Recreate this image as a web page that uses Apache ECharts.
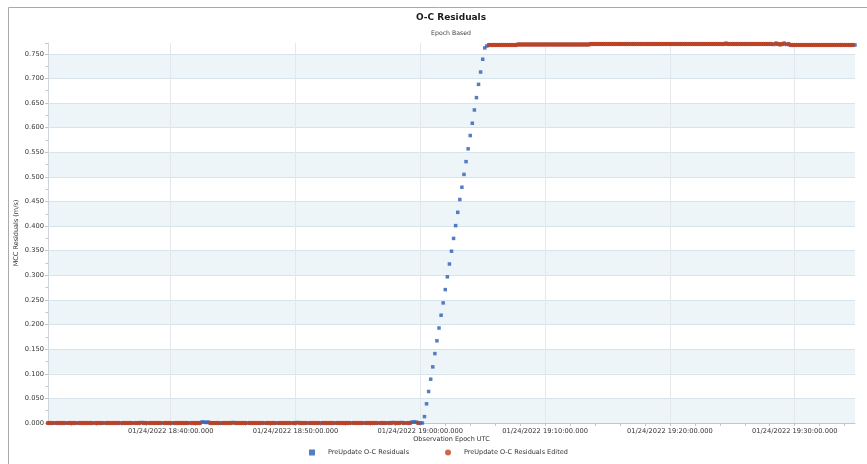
<!DOCTYPE html>
<html>
<head>
<meta charset="utf-8">
<title>O-C Residuals</title>
<script src="https://cdn.jsdelivr.net/npm/echarts@6/dist/echarts.min.js"></script>
<style>
  html, body { margin: 0; padding: 0; background: #ffffff; }
  #chart { width: 867px; height: 464px; }
</style>
</head>
<body>
<div id="chart"></div>
<script>
// Observation epochs: one residual every 10 s starting at this UTC time
const firstEpochUtc = '2022-01-24T18:30:10Z';
const epochStepSec = 10;

// MCC residuals (m/s), epochs 18:30:10 .. 19:00:10
const residualsFlat = [
  0, 0, 0, 0, 0, 0, 0, 0, 0, 0,
  0, 0, 0, 0, 0, 0, 0, 0, 0, 0,
  0, 0, 0, 0, 0, 0, 0, 0, 0, 0,
  0, 0, 0, 0, 0, 0, 0, 0, 0, 0,
  0, 0, 0, 0, 0, 0.001, 0, 0, 0, 0,
  0, 0, 0, 0, 0, 0, 0, 0, 0, 0,
  0, 0, 0, 0, 0, 0, 0, 0, 0, 0,
  0, 0, 0, 0, 0.002, 0.002, 0.001, 0.002, 0, 0,
  0, 0, 0, 0, 0, 0, 0, 0, 0, 0.001,
  0, 0, 0, 0, 0, 0, 0, 0, 0, 0,
  0, 0, 0, 0, 0, 0, 0, 0, 0, 0,
  0, 0, 0, 0, 0, 0, 0, 0, 0, 0,
  0.001, 0, 0, 0, 0, 0, 0, 0, 0, 0,
  0, 0, 0, 0, 0, 0, 0, 0, 0, 0,
  0, 0, 0, 0, 0, 0, 0, 0, 0, 0,
  0, 0, 0, 0, 0, 0, 0, 0, 0, 0,
  0, 0, 0, 0, 0, 0, 0.001, 0, 0, 0,
  0.001, 0, 0, 0, 0, 0.002, 0.002, 0.002, 0, 0,
  0
];

// Residual growth, epochs 19:00:20 .. 19:05:10
const residualsRamp = [
  0.013, 0.039, 0.064, 0.089, 0.114, 0.141, 0.167, 0.193, 0.219, 0.244,
  0.271, 0.297, 0.323, 0.349, 0.375, 0.401, 0.428, 0.454, 0.479, 0.505,
  0.531, 0.557, 0.584, 0.609, 0.636, 0.661, 0.688, 0.713, 0.739, 0.762
];

// Settled residuals, epochs 19:05:20 .. 19:34:50
const residualsTop = [
  0.766, 0.768, 0.768, 0.768, 0.768, 0.768, 0.768, 0.768, 0.768, 0.768,
  0.768, 0.768, 0.768, 0.768, 0.768, 0.769, 0.769, 0.769, 0.769, 0.769,
  0.769, 0.769, 0.769, 0.769, 0.769, 0.769, 0.769, 0.769, 0.769, 0.769,
  0.769, 0.769, 0.769, 0.769, 0.769, 0.769, 0.769, 0.769, 0.769, 0.769,
  0.769, 0.769, 0.769, 0.769, 0.769, 0.769, 0.769, 0.769, 0.769, 0.769,
  0.770, 0.770, 0.770, 0.770, 0.770, 0.770, 0.770, 0.770, 0.770, 0.770,
  0.770, 0.770, 0.770, 0.770, 0.770, 0.770, 0.770, 0.770, 0.770, 0.770,
  0.770, 0.770, 0.770, 0.770, 0.770, 0.770, 0.770, 0.770, 0.770, 0.770,
  0.770, 0.770, 0.770, 0.770, 0.770, 0.770, 0.770, 0.770, 0.770, 0.770,
  0.770, 0.770, 0.770, 0.770, 0.770, 0.770, 0.770, 0.770, 0.770, 0.770,
  0.770, 0.770, 0.770, 0.770, 0.770, 0.770, 0.770, 0.770, 0.770, 0.770,
  0.770, 0.770, 0.770, 0.770, 0.770, 0.771, 0.770, 0.770, 0.770, 0.770,
  0.770, 0.770, 0.770, 0.770, 0.770, 0.770, 0.770, 0.770, 0.770, 0.770,
  0.770, 0.770, 0.770, 0.770, 0.770, 0.770, 0.770, 0.770, 0.769, 0.771,
  0.770, 0.769, 0.770, 0.771, 0.769, 0.770, 0.768, 0.768, 0.768, 0.768,
  0.768, 0.768, 0.768, 0.768, 0.768, 0.768, 0.768, 0.768, 0.768, 0.768,
  0.768, 0.768, 0.768, 0.768, 0.768, 0.768, 0.768, 0.768, 0.768, 0.768,
  0.768, 0.768, 0.768, 0.768, 0.768, 0.768, 0.768, 0.768
];

// Epoch index ranges kept after editing, and epochs removed inside them
const editedSpans = [[0, 178], [212, 387]];
const editedGaps = [3, 9, 14, 22, 27, 35, 41, 45, 48, 55, 60, 68, 74, 75, 76, 77,
  83, 89, 96, 104, 110, 117, 120, 125, 131, 138, 146, 152, 159, 163, 166, 170,
  172, 175, 176, 177, 349, 355];

// Time axis marks (UTC, 24 Jan 2022)
const labelTimes = ['18:40', '18:50', '19:00', '19:10', '19:20', '19:30'];
const tickTimes = ['18:32', '18:34', '18:36', '18:38', '18:40', '18:42', '18:44', '18:46',
  '18:48', '18:50', '18:52', '18:54', '18:56', '18:58', '19:00', '19:02', '19:04', '19:06',
  '19:08', '19:10', '19:12', '19:14', '19:16', '19:18', '19:20', '19:22', '19:24', '19:26',
  '19:28', '19:30', '19:32', '19:34'];

const residualMax = 0.772;
const residualStep = 0.05;

const SERIES_PRE = 'PreUpdate O-C Residuals';
const SERIES_EDITED = 'PreUpdate O-C Residuals Edited';

function utcMs(hhmm) {
  const [h, m] = hhmm.split(':').map(Number);
  return Date.UTC(2022, 0, 24, h, m, 0);
}
function pad(n, w) { return String(n).padStart(w || 2, '0'); }
function formatEpoch(ms) {
  const d = new Date(ms);
  return pad(d.getUTCMonth() + 1) + '/' + pad(d.getUTCDate()) + '/' + d.getUTCFullYear() + ' ' +
    pad(d.getUTCHours()) + ':' + pad(d.getUTCMinutes()) + ':' + pad(d.getUTCSeconds()) + '.' +
    pad(d.getUTCMilliseconds(), 3);
}

const t0 = Date.parse(firstEpochUtc);
const residuals = residualsFlat.concat(residualsRamp, residualsTop);
const epochs = residuals.map((_, i) => t0 + i * epochStepSec * 1000);

const preData = residuals.map((v, i) => [epochs[i], v]);
const gapSet = new Set(editedGaps);
const editedData = [];
editedSpans.forEach(([a, b]) => {
  for (let i = a; i <= b; i++) {
    if (!gapSet.has(i)) editedData.push([epochs[i], residuals[i]]);
  }
});

const xMin = epochs[0];
const xMax = epochs[epochs.length - 1];
const labelValues = labelTimes.map(utcMs);
const tickValues = tickTimes.map(utcMs);

const FONT = 'DejaVu Sans';
const BLUE = '#2c5cb4';
const RED = '#c4401b';

const chart = echarts.init(document.getElementById('chart'), null, { renderer: 'canvas' });
chart.setOption({
  animation: false,
  backgroundColor: '#ffffff',
  textStyle: { fontFamily: FONT },
  graphic: [{
    type: 'rect',
    silent: true,
    shape: { x: 8.5, y: 7.5, width: 900, height: 500 },
    style: { fill: 'none', stroke: '#a7abb0', lineWidth: 1 }
  }],
  title: [{
    text: 'O-C Residuals',
    left: 451, top: 13, padding: 0, textAlign: 'center',
    textStyle: { fontFamily: FONT, fontSize: 9, fontWeight: 'bold', color: '#1a1a1a' }
  }, {
    text: 'Epoch Based',
    left: 451, top: 30, padding: 0, textAlign: 'center',
    textStyle: { fontFamily: FONT, fontSize: 6.2, fontWeight: 'normal', color: '#444444' }
  }],
  legend: {
    left: 309, top: 449, padding: 0,
    itemWidth: 6, itemHeight: 6, itemGap: 36,
    textStyle: { fontFamily: FONT, fontSize: 6.5, color: '#333333', padding: [0, 0, 0, 8] },
    data: [{ name: SERIES_PRE, icon: 'rect' }, { name: SERIES_EDITED, icon: 'circle' }]
  },
  grid: {
    left: 48, right: 12, top: 43, bottom: 41,
    containLabel: false, outerBoundsMode: 'none'
  },
  xAxis: [{
    type: 'value',
    min: xMin, max: xMax,
    name: 'Observation Epoch UTC',
    nameLocation: 'middle', nameGap: 13, nameMoveOverlap: false,
    nameTextStyle: { fontFamily: FONT, fontSize: 6.5, color: '#333333' },
    axisLine: { show: true, lineStyle: { color: '#c3c6c9', width: 1 } },
    axisTick: { show: true, length: 3, customValues: tickValues, lineStyle: { color: '#c3c6c9' } },
    axisLabel: {
      customValues: labelValues, margin: 4.5,
      fontFamily: FONT, fontSize: 6.7, color: '#333333',
      formatter: v => formatEpoch(v)
    },
    splitLine: { show: false }
  }, {
    type: 'value',
    min: xMin, max: xMax,
    position: 'bottom',
    axisLine: { show: false },
    axisTick: { show: false, customValues: labelValues },
    axisLabel: { show: false },
    splitLine: { show: true, lineStyle: { color: '#e4e8eb', width: 1 } }
  }],
  yAxis: {
    type: 'value',
    min: 0, max: residualMax, interval: residualStep,
    name: 'MCC Residuals (m/s)',
    nameLocation: 'middle', nameGap: 28, nameMoveOverlap: false,
    nameTextStyle: { fontFamily: FONT, fontSize: 6.5, color: '#333333' },
    axisLine: { show: true, lineStyle: { color: '#cdd5db', width: 1 } },
    axisTick: { show: true, length: 3, lineStyle: { color: '#c3c6c9' } },
    minorTick: { show: true, splitNumber: 2, length: 2.5, lineStyle: { color: '#c3c6c9' } },
    axisLabel: {
      margin: 4, showMaxLabel: false,
      fontFamily: FONT, fontSize: 6.7, color: '#333333',
      formatter: v => v.toFixed(3)
    },
    splitLine: { show: true, showMaxLine: false, lineStyle: { color: '#d8e4ec', width: 1 } },
    splitArea: { show: true, areaStyle: { color: ['#eef5f9', '#ffffff'] } }
  },
  series: [{
    name: SERIES_PRE,
    type: 'scatter',
    xAxisIndex: 0,
    symbol: 'rect',
    symbolSize: 3.5,
    clip: false,
    itemStyle: { color: BLUE },
    data: preData
  }, {
    name: SERIES_EDITED,
    type: 'scatter',
    xAxisIndex: 0,
    symbol: 'circle',
    symbolSize: 4.5,
    clip: false,
    itemStyle: { color: RED },
    data: editedData
  }]
});
</script>
</body>
</html>
